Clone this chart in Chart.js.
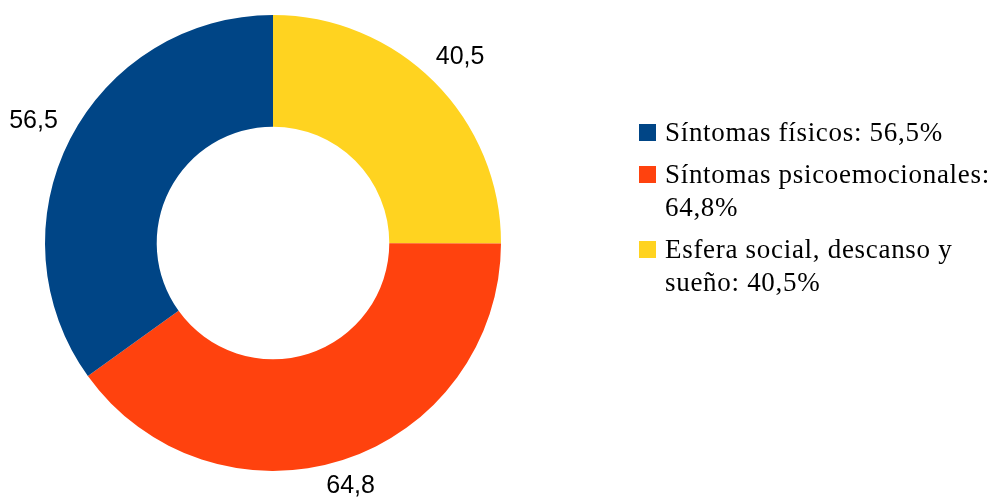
<!DOCTYPE html>
<html>
<head>
<meta charset="utf-8">
<script src="https://cdn.jsdelivr.net/npm/chart.js@4/dist/chart.umd.min.js"></script>
<style>
  html, body { margin: 0; padding: 0; background: #fff; }
  #wrap { position: relative; width: 991px; height: 500px; }
  #chart { position: absolute; left: 0; top: 0; }
  #legend { position: absolute; left: 639px; top: 116px; width: 352px;
    font-family: 'Liberation Serif', 'Times New Roman', serif; font-size: 27px;
    letter-spacing: 0.7px; line-height: 33px; color: #000; }
  .item { position: relative; padding-left: 26px; margin-bottom: 9px; }
  .box { position: absolute; left: 0; top: 8px; width: 17px; height: 17px; }
</style>
</head>
<body>
<div id="wrap">
  <canvas id="chart" width="991" height="500"></canvas>
  <div id="legend"></div>
</div>
<script>
// legend order
const categories = ['Síntomas físicos', 'Síntomas psicoemocionales', 'Esfera social, descanso y sueño'];
const values = [56.5, 64.8, 40.5];
const colors = ['#004586', '#FF420E', '#FFD320'];

const fmt = v => v.toFixed(1).replace('.', ',');

// slices run clockwise from the top in the opposite order
const sliceLabels = categories.slice().reverse();
const sliceValues = values.slice().reverse();
const sliceColors = colors.slice().reverse();

const outsideLabels = {
  id: 'outsideLabels',
  afterDatasetsDraw(chart) {
    const ctx = chart.ctx;
    const meta = chart.getDatasetMeta(0);
    ctx.save();
    ctx.font = '25px "Liberation Sans", Arial, sans-serif';
    ctx.fillStyle = '#000';
    ctx.textAlign = 'center';
    ctx.textBaseline = 'middle';
    meta.data.forEach((arc, i) => {
      const mid = (arc.startAngle + arc.endAngle) / 2;
      const r = arc.outerRadius + 18 + 26 * Math.abs(Math.cos(mid));
      ctx.fillText(fmt(sliceValues[i]), arc.x + Math.cos(mid) * r, arc.y + Math.sin(mid) * r + 1);
    });
    ctx.restore();
  }
};

new Chart(document.getElementById('chart'), {
  type: 'doughnut',
  data: {
    labels: sliceLabels,
    datasets: [{
      data: sliceValues,
      backgroundColor: sliceColors,
      borderWidth: 0,
      hoverOffset: 0
    }]
  },
  options: {
    responsive: false,
    animation: false,
    devicePixelRatio: 1,
    cutout: '51%',
    layout: { padding: { left: 45, right: 490, top: 15, bottom: 29 } },
    plugins: {
      legend: { display: false },
      tooltip: { enabled: false }
    }
  },
  plugins: [outsideLabels]
});

// html legend
const legendEl = document.getElementById('legend');
categories.forEach((c, i) => {
  const item = document.createElement('div');
  item.className = 'item';
  const box = document.createElement('span');
  box.className = 'box';
  box.style.background = colors[i];
  item.appendChild(box);
  item.appendChild(document.createTextNode(c + ': ' + fmt(values[i]) + '%'));
  legendEl.appendChild(item);
});
</script>
</body>
</html>
